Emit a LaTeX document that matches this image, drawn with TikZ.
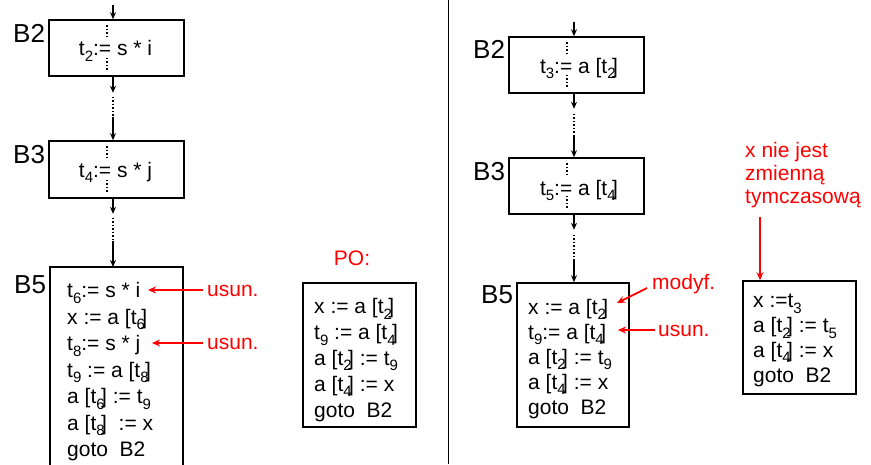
\documentclass[tikz,border=0pt]{standalone}
\usepackage{fontspec}
\setmainfont{Liberation Sans}
\usetikzlibrary{arrows.meta}
\newcommand{\tsub}[1]{\raisebox{-5.5pt}{\fontsize{15}{15}\selectfont #1}}
\newcommand{\tsubb}[1]{\tsub{#1}\kern-3.5pt}
\tikzset{
  box/.style={draw, line width=1.6pt, inner sep=0pt},
  arr/.style={line width=1.2pt, -{Stealth[length=7pt,width=6pt]}},
  dots/.style={line width=1.5pt, dash pattern=on 1.5pt off 2pt},
  redarr/.style={red, line width=1.8pt, -{Stealth[length=8pt,width=7pt]}},
  lbl/.style={font=\fontsize{26}{26}\selectfont, inner sep=0pt, anchor=base west},
  txt/.style={font=\fontsize{21}{26.5}\selectfont, inner sep=0pt, align=left, anchor=base west},
  rtxt/.style={font=\fontsize{21}{23}\selectfont, inner sep=0pt, align=left, anchor=base west, text=red}
}
\begin{document}
\begin{tikzpicture}[x=1pt,y=-1pt]
\useasboundingbox (0,0) rectangle (871,464);
% ---------- left column ----------
\node[box, minimum width=135pt, minimum height=56pt] (b2l) at (116.5,48) {};
\node[box, minimum width=135pt, minimum height=57pt] (b3l) at (116.5,169.5) {};
\draw[line width=1.6pt] (50,470) -- (50,267) -- (183,267) -- (183,470);
\coordinate (b5ltop) at (113,267);
\node[lbl] (lb2l) at (13,42) {B2};
\node[lbl] (lb3l) at (13,163) {B3};
\node[lbl] (lb5l) at (14,293) {B5};
\node[font=\fontsize{21}{21}\selectfont, inner sep=0pt, anchor=base] (t2l) at (115.5,55.5) {t\tsub{2}:= s * i};
\node[font=\fontsize{21}{21}\selectfont, inner sep=0pt, anchor=base] (t4l) at (115.5,177) {t\tsub{4}:= s * j};
\coordinate (axl) at (113,5);
\coordinate (dxl) at (107,0);
\draw[arr] (axl) -- (axl |- b2l.north);
\draw[dots] (dxl |- b2l.north) ++(0,6) -- ++(0,11);
\draw[dots] (dxl |- b2l.south) ++(0,-19) -- ++(0,13);
\draw[dots] (dxl |- b3l.north) ++(0,6) -- ++(0,11);
\draw[dots] (dxl |- b3l.south) ++(0,-19) -- ++(0,13);
\draw[arr] (axl |- b2l.south) -- ++(0,16);
\draw[dots] (axl |- b2l.south) ++(0,20) -- ++(0,21);
\draw[arr] (axl |- b3l.north) ++(0,-23) -- (axl |- b3l.north);
\draw[arr] (axl |- b3l.south) -- ++(0,15);
\draw[dots] (axl |- b3l.south) ++(0,19) -- ++(0,22);
\draw[arr] (b5ltop) ++(0,-26) -- (b5ltop);
\node[txt] (b5ltxt) at (67,456.5) {t\tsub{6}:= s * i\\
x := a [t\tsubb{6}]\\
t\tsub{8}:= s * j\\
t\tsub{9} := a [t\tsubb{8}]\\
a [t\tsubb{6}] := t\tsub{9}\\
a [t\tsubb{8}]~~:= x\\
goto~~B2};
\node[txt, text=red, anchor=west] (us1) at (207,291) {usun.};
\node[txt, text=red, anchor=west] (us2) at (207,344) {usun.};
\coordinate (e1) at (148,290);
\coordinate (e2) at (152,343);
\draw[redarr] (us1.west |- e1) ++(-4,0) -- (e1);
\draw[redarr] (us2.west |- e2) ++(-4,0) -- (e2);
% ---------- PO ----------
\node[txt, text=red, anchor=center] (po) at (352,258) {PO:};
\node[box, minimum width=113pt, minimum height=144pt] (pobox) at (359.5,355) {};
\node[txt, font=\fontsize{21}{25.8}\selectfont] (potxt) at (314,417) {x := a [t\tsubb{2}]\\
t\tsub{9} := a [t\tsubb{4}]\\
a [t\tsubb{2}] := t\tsub{9}\\
a [t\tsubb{4}] := x\\
goto~~B2};
% ---------- divider ----------
\coordinate (dvt) at (448.5,0);
\coordinate (dvb) at (448.5,464);
\draw[line width=1.5pt] (dvt) -- (dvb);
% ---------- right column ----------
\node[box, minimum width=135pt, minimum height=56pt] (b2r) at (576.5,65) {};
\node[box, minimum width=135pt, minimum height=56pt] (b3r) at (576.5,186) {};
\node[box, minimum width=112pt, minimum height=144pt] (b5r) at (573,355) {};
\node[lbl] (lb2r) at (473,58) {B2};
\node[lbl] (lb3r) at (473,180) {B3};
\node[lbl] (lb5r) at (481,303) {B5};
\node[font=\fontsize{21}{21}\selectfont, inner sep=0pt, anchor=base] (t3r) at (579,73) {t\tsub{3}:= a [t\tsubb{2}]};
\node[font=\fontsize{21}{21}\selectfont, inner sep=0pt, anchor=base] (t5r) at (579,195) {t\tsub{5}:= a [t\tsubb{4}]};
\coordinate (axr) at (574,22);
\coordinate (dxr) at (567,0);
\draw[arr] (axr) -- (axr |- b2r.north);
\draw[dots] (dxr |- b2r.north) ++(0,6) -- ++(0,11);
\draw[dots] (dxr |- b2r.south) ++(0,-19) -- ++(0,13);
\draw[dots] (dxr |- b3r.north) ++(0,6) -- ++(0,11);
\draw[dots] (dxr |- b3r.south) ++(0,-19) -- ++(0,13);
\draw[arr] (axr |- b2r.south) -- ++(0,15);
\draw[dots] (axr |- b2r.south) ++(0,20) -- ++(0,21);
\draw[arr] (axr |- b3r.north) ++(0,-22) -- (axr |- b3r.north);
\draw[arr] (axr |- b3r.south) -- ++(0,15);
\draw[dots] (axr |- b3r.south) ++(0,20) -- ++(0,24);
\draw[arr] (axr |- b5r.north) ++(0,-23) -- (axr |- b5r.north);
\node[txt, font=\fontsize{21}{25}\selectfont] (b5rtxt) at (528,414) {x := a [t\tsubb{2}]\\
t\tsub{9}:= a [t\tsubb{4}]\\
a [t\tsubb{2}] := t\tsub{9}\\
a [t\tsubb{4}] := x\\
goto~~B2};
\node[txt, text=red, anchor=west] (mod) at (652,284) {modyf.};
\node[txt, text=red, anchor=west] (us3) at (658,331) {usun.};
\coordinate (e3) at (617,303);
\coordinate (s3) at (647,288);
\coordinate (e4) at (618,330);
\draw[redarr] (s3) -- (e3);
\draw[redarr] (us3.west |- e4) ++(-3,0) -- (e4);
% ---------- note ----------
\node[rtxt] (note) at (745,203) {x nie jest\\zmienną\\tymczasową};
\coordinate (ns) at (760,217);
\node[box, minimum width=113pt, minimum height=113pt] (rbox) at (799.5,337.5) {};
\draw[redarr] (ns) -- (ns |- rbox.north);
\node[txt, font=\fontsize{21}{24.7}\selectfont] (rtxt) at (753,382) {x :=t\tsub{3}\\
a [t\tsubb{2}] := t\tsub{5}\\
a [t\tsubb{4}] := x\\
goto~~B2};
\end{tikzpicture}
\end{document}
